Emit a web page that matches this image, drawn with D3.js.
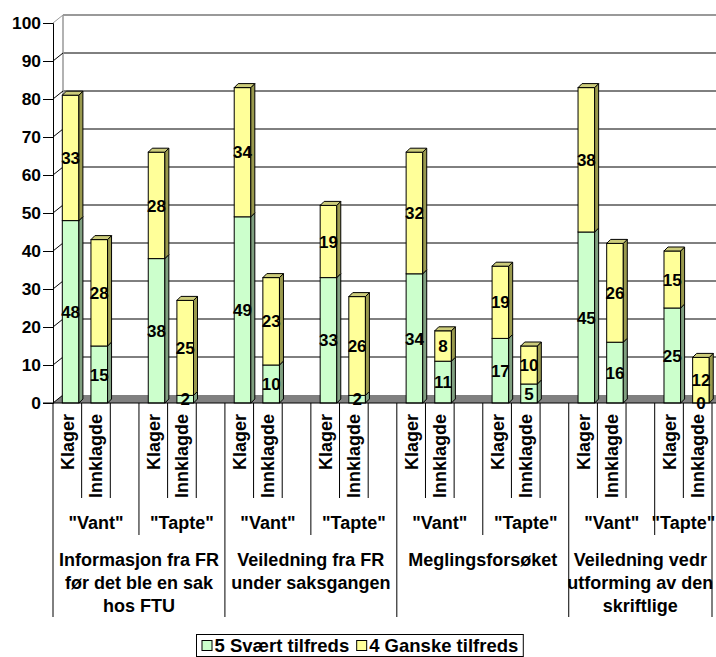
<!DOCTYPE html>
<html>
<head>
<meta charset="utf-8">
<script src="https://cdn.jsdelivr.net/npm/d3@7/dist/d3.min.js"></script>
<style>
  html, body { margin: 0; padding: 0; background: #fff; }
  svg { display: block; }
  text { font-family: "Liberation Sans", Arial, sans-serif; font-weight: bold; fill: #000; }
</style>
</head>
<body>
<div id="chart"></div>
<script>
// Survey answers: satisfaction with FR, split by outcome and party
const groupLabels = [
  ["Informasjon fra FR", "før det ble en sak", "hos FTU"],
  ["Veiledning fra FR", "under saksgangen"],
  ["Meglingsforsøket"],
  ["Veiledning vedr", "utforming av den", "skriftlige"]
];
const outcomeLabels = ['"Vant"', '"Tapte"'];
const partyLabels = ["Klager", "Innklagde"];

// One value per bar, in order group → outcome → party
const svaertTilfreds = [48, 15, 38, 2, 49, 10, 33, 2, 34, 11, 17, 5, 45, 16, 25, 0];
const ganskeTilfreds = [33, 28, 28, 25, 34, 23, 19, 26, 32, 8, 19, 10, 38, 26, 15, 12];

const seriesNames = ["5 Svært tilfreds", "4 Ganske tilfreds"];
const yTicks = [0, 10, 20, 30, 40, 50, 60, 70, 80, 90, 100];

const W = 716, H = 657;
const FONT_VAL = 17, FONT_AXIS = 17.4, FONT_CAT = 18, FONT_LEG = 18.5;
const colors = {
  green: { front: "#ccffcc", side: "#80a080", top: "#aaccaa" },
  yellow: { front: "#ffff99", side: "#99994d", top: "#cccc7a" }
};

const svg = d3.select("#chart").append("svg")
  .attr("width", W).attr("height", H);

// Each outcome takes three slots (two bars + a spacer); the last spacer is dropped
const slotCount = groupLabels.length * 6 - 1;
const x = d3.scaleBand().domain(d3.range(slotCount)).range([53, 712]).padding(0);
const y = d3.scaleLinear().domain([0, 100]).range([403, 23]);
const sw = x.bandwidth();

const wall = { dx: 10, dy: -8 };   // depth of the back wall
const bar = { dx: 4, dy: -4, w: 16.6, shift: 9.3 }; // bar depth and placement in slot

const bars = [];
groupLabels.forEach((g, gi) => {
  outcomeLabels.forEach((o, oi) => {
    partyLabels.forEach((p, pi) => {
      const i = gi * 4 + oi * 2 + pi;
      bars.push({ slot: gi * 6 + oi * 3 + pi, party: p, a: svaertTilfreds[i], b: ganskeTilfreds[i] });
    });
  });
});

// Back wall grid
const back = svg.append("g");
yTicks.filter(v => v > 0 && v < 100).forEach(v => {
  back.append("line")
    .attr("x1", x(0) + wall.dx).attr("x2", W)
    .attr("y1", y(v) + wall.dy).attr("y2", y(v) + wall.dy)
    .attr("stroke", "#000").attr("stroke-width", 1);
});
back.append("line")
  .attr("x1", x(0) + wall.dx).attr("x2", W)
  .attr("y1", y(100) + wall.dy).attr("y2", y(100) + wall.dy)
  .attr("stroke", "#999").attr("stroke-width", 2);
back.append("line")
  .attr("x1", x(0) + wall.dx).attr("x2", x(0) + wall.dx)
  .attr("y1", y(100) + wall.dy).attr("y2", y(0) + wall.dy)
  .attr("stroke", "#999").attr("stroke-width", 1.5);

// Floor
svg.append("path")
  .attr("d", `M${x(0)},${y(0)} L${W},${y(0)} L${W},${y(0) + wall.dy} L${x(0) + wall.dx},${y(0) + wall.dy} Z`)
  .attr("fill", "#808080");

// Left wall edges from the front axis ticks
yTicks.forEach(v => {
  svg.append("line")
    .attr("x1", x(0)).attr("y1", y(v))
    .attr("x2", x(0) + wall.dx).attr("y2", y(v) + wall.dy)
    .attr("stroke", v === 100 ? "#999" : "#000").attr("stroke-width", 1);
});

// 3D stacked columns
const barG = svg.append("g");
function box(g, x0, yTopV, yBotV, c, withTop) {
  const x1 = x0 + bar.w;
  const t = y(yTopV), b = y(yBotV);
  g.append("rect").attr("x", x0).attr("y", t).attr("width", bar.w).attr("height", b - t)
    .attr("fill", c.front).attr("stroke", "#000").attr("stroke-width", 1);
  g.append("path")
    .attr("d", `M${x1},${t} L${x1 + bar.dx},${t + bar.dy} L${x1 + bar.dx},${b + bar.dy} L${x1},${b} Z`)
    .attr("fill", c.side).attr("stroke", "#000").attr("stroke-width", 1).attr("stroke-linejoin", "round");
  if (withTop) {
    g.append("path")
      .attr("d", `M${x0},${t} L${x0 + bar.dx},${t + bar.dy} L${x1 + bar.dx},${t + bar.dy} L${x1},${t} Z`)
      .attr("fill", c.top).attr("stroke", "#000").attr("stroke-width", 1).attr("stroke-linejoin", "round");
  }
}
bars.forEach(d => {
  const g = barG.append("g");
  const bx = x(d.slot) + bar.shift;
  if (d.a > 0) box(g, bx, d.a, 0, colors.green, d.b === 0);
  if (d.b > 0) box(g, bx, d.a + d.b, d.a, colors.yellow, true);
  const cx = bx + bar.w / 2;
  g.append("text").attr("x", cx).attr("y", (y(0) + y(d.a)) / 2).attr("dy", "0.36em")
    .attr("text-anchor", "middle").attr("font-size", FONT_VAL).text(d.a);
  g.append("text").attr("x", cx).attr("y", (y(d.a) + y(d.a + d.b)) / 2).attr("dy", "0.36em")
    .attr("text-anchor", "middle").attr("font-size", FONT_VAL).text(d.b);
});

// Value axis
const yAxis = svg.append("g").attr("transform", `translate(${x(0)},0)`)
  .call(d3.axisLeft(y).tickValues(yTicks).tickSize(10).tickPadding(2));
yAxis.select(".domain").attr("stroke", "#000");
yAxis.selectAll(".tick line").attr("stroke", "#000");
yAxis.selectAll("text").attr("font-size", FONT_AXIS).attr("font-family", null).attr("fill", "#000");

// Category axis line
svg.append("line").attr("x1", x(0) - 10).attr("x2", W).attr("y1", y(0)).attr("y2", y(0))
  .attr("stroke", "#000");

// Multi-level category dividers
const cat = svg.append("g");
for (let i = 0; i <= slotCount; i++) {
  const xx = i === slotCount ? x(slotCount - 1) + sw : x(i);
  let bottom = 498;
  if (i % 6 === 0 || i === slotCount) bottom = 617;
  else if (i % 3 === 0) bottom = 535;
  cat.append("line").attr("x1", xx).attr("x2", xx).attr("y1", y(0)).attr("y2", bottom)
    .attr("stroke", "#000").attr("stroke-width", 1);
}

// Level 1: party names, rotated
bars.forEach(d => {
  const cx = x(d.slot) + sw / 2;
  cat.append("text")
    .attr("transform", `translate(${cx},414) rotate(-90)`)
    .attr("text-anchor", "end").attr("dy", "0.36em")
    .attr("font-size", FONT_CAT).text(d.party);
});

// Level 2: outcome
groupLabels.forEach((g, gi) => {
  outcomeLabels.forEach((o, oi) => {
    const first = gi * 6 + oi * 3;
    const last = Math.min(first + 2, slotCount - 1);
    const cx = (x(first) + x(last) + sw) / 2;
    cat.append("text").attr("x", cx).attr("y", 529)
      .attr("text-anchor", "middle").attr("font-size", FONT_CAT).text(o);
  });
});

// Level 3: question groups
groupLabels.forEach((lines, gi) => {
  const first = gi * 6;
  const last = Math.min(first + 5, slotCount - 1);
  const cx = (x(first) + x(last) + sw) / 2;
  const t = cat.append("text").attr("text-anchor", "middle").attr("font-size", FONT_CAT);
  lines.forEach((ln, li) => {
    t.append("tspan").attr("x", cx).attr("y", 566 + li * 23).text(ln);
  });
});

// Legend, laid out from measured text widths and centred
const lg = svg.append("g");
const frame = lg.append("rect").attr("y", 634.5).attr("height", 22)
  .attr("fill", "#fff").attr("stroke", "#000");
const swatch = 10, gapSwatch = 3, gapItem = 7, pad = 5;
const itemG = lg.append("g");
let cursor = 0;
seriesNames.forEach((name, i) => {
  const c = i === 0 ? colors.green.front : colors.yellow.front;
  itemG.append("rect").attr("x", cursor + 0.5).attr("y", 640.5).attr("width", swatch).attr("height", swatch)
    .attr("fill", c).attr("stroke", "#000");
  const tx = itemG.append("text").attr("x", cursor + swatch + gapSwatch).attr("y", 652)
    .attr("font-size", FONT_LEG).text(name);
  cursor += swatch + gapSwatch + tx.node().getComputedTextLength() + gapItem;
});
const total = cursor - gapItem + 2 * pad;
const left = Math.round(523 - total) + 0.5;
frame.attr("x", left).attr("width", total);
itemG.attr("transform", `translate(${left + pad},0)`);
</script>
</body>
</html>
